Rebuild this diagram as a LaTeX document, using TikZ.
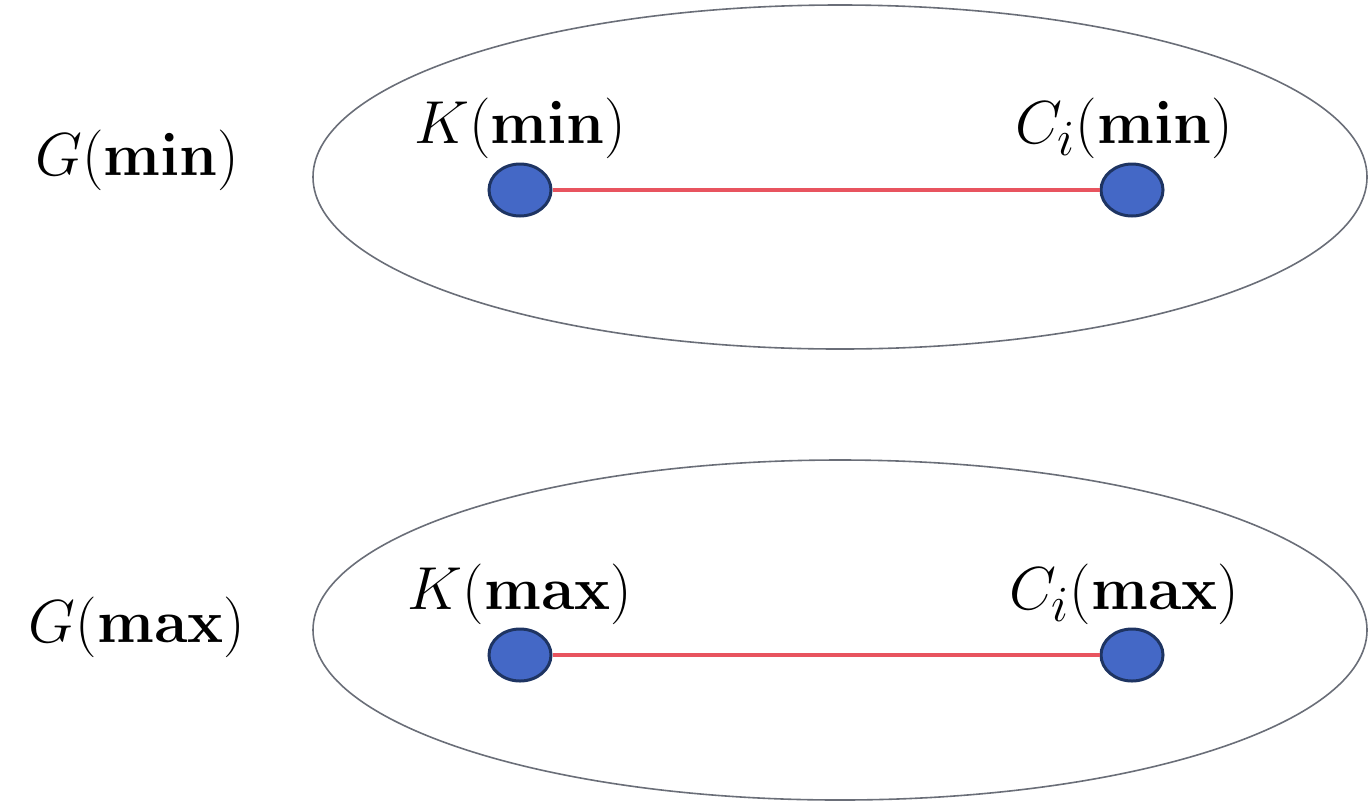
\documentclass[tikz,border=0pt]{standalone}
\usetikzlibrary{shapes.geometric}
\definecolor{dotfill}{HTML}{4468C6}
\definecolor{dotline}{HTML}{1E3462}
\definecolor{edgered}{HTML}{E8545F}
\definecolor{ringgray}{HTML}{6A6E78}
\begin{document}
\begin{tikzpicture}[x=0.5pt,y=-0.5pt,
  dot/.style={ellipse,fill=dotfill,draw=dotline,line width=1.5pt,minimum width=31pt,minimum height=26pt,inner sep=0pt},
  lbl/.style={font=\Huge,scale=1.22,inner sep=0pt},
  edge/.style={draw=edgered,line width=1.8pt},
  ring/.style={draw=ringgray,line width=0.8pt}]
\useasboundingbox (0,0) rectangle (1368,804);
% top group
\draw[ring] (840,177) ellipse [x radius=263.5pt, y radius=86pt];
\node[lbl] (gmin) at (137,160) {$G(\mathbf{min})$};
\node[dot] (kmin) at (520,190) {};
\node[dot] (cmin) at (1132,190) {};
\node[lbl] (kminl) at (520,128) {$K(\mathbf{min})$};
\node[lbl] (cminl) at (1124,128) {$C_i(\mathbf{min})$};
\draw[edge] (kmin) -- (cmin);
% bottom group
\draw[ring] (840,630) ellipse [x radius=263.5pt, y radius=85pt];
\node[lbl] (gmax) at (137,627) {$G(\mathbf{max})$};
\node[dot] (kmax) at (520,655) {};
\node[dot] (cmax) at (1132,655) {};
\node[lbl] (kmaxl) at (520,594) {$K(\mathbf{max})$};
\node[lbl] (cmaxl) at (1124,594) {$C_i(\mathbf{max})$};
\draw[edge] (kmax) -- (cmax);
\end{tikzpicture}
\end{document}
